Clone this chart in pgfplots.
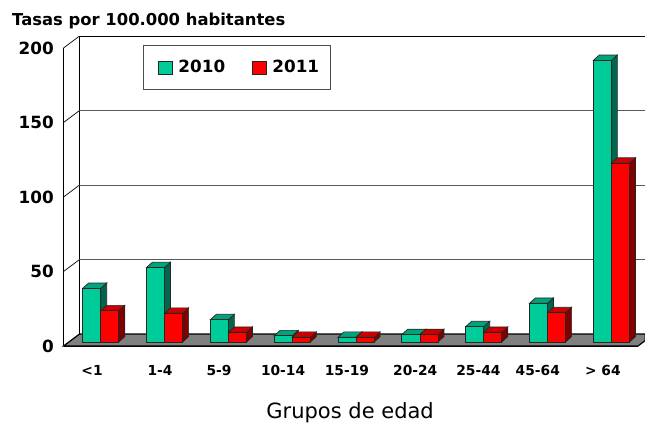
\documentclass[border=0pt]{standalone}
\usepackage{pgfplots}
\usepackage{fontspec}
\pgfplotsset{compat=1.18}
\setmainfont{DejaVu Sans}

\definecolor{greenF}{RGB}{0,204,153}
\definecolor{greenT}{RGB}{0,163,122}
\definecolor{greenS}{RGB}{0,102,77}
\definecolor{redF}{RGB}{255,0,0}
\definecolor{redT}{RGB}{204,0,0}
\definecolor{redS}{RGB}{128,0,0}

% one box: left edge, value, colours front/top/side
\newcommand{\onebox}[5]{%
  \pgfmathsetmacro{\xa}{#1}%
  \pgfmathsetmacro{\xb}{#1+0.283}%
  \pgfmathsetmacro{\xc}{#1+0.283+0.094}%
  \pgfmathsetmacro{\xd}{#1+0.094}%
  \pgfmathsetmacro{\ya}{2.68}%
  \pgfmathsetmacro{\yb}{2.68+#2}%
  \pgfmathsetmacro{\yc}{2.68+#2+3.6}%
  \pgfmathsetmacro{\ye}{2.68+3.6}%
  \addplot[forget plot, boxedge, fill=#5] coordinates {(\xb,\ya) (\xc,\ye) (\xc,\yc) (\xb,\yb)} -- cycle;
  \addplot[forget plot, boxedge, fill=#4] coordinates {(\xa,\yb) (\xb,\yb) (\xc,\yc) (\xd,\yc)} -- cycle;
  \addplot[forget plot, boxedge, fill=#3] coordinates {(\xa,\ya) (\xb,\ya) (\xb,\yb) (\xa,\yb)} -- cycle;
}
% one age group: index, 2010, 2011
\newcommand{\onegroup}[3]{%
  \pgfmathsetmacro{\gl}{#1+0.30}%
  \pgfmathsetmacro{\gr}{#1+0.583}%
  \edef\gleft{\gl}\edef\gright{\gr}%
  \expandafter\onebox\expandafter{\gleft}{#2}{greenF}{greenT}{greenS}%
  \expandafter\onebox\expandafter{\gright}{#3}{redF}{redT}{redS}%
}

\begin{document}
\begin{tikzpicture}
\path[use as bounding box] (-63.5pt,-80pt) rectangle (581.5pt,346pt);
\begin{axis}[
    scale only axis, width=574.5pt, height=298pt,
    xmin=0, xmax=9, ymin=0, ymax=200,
    clip=false,
    boxedge/.style={draw=black!85, line width=0.7pt, mark=none},
    axis x line=bottom, axis y line=left,
    axis line style={-, black, line width=0.9pt},
    xtick={0.447,1.512,2.437,3.44,4.44,5.51,6.50,7.43,8.45},
    xticklabels={<1,1-4,5-9,10-14,15-19,20-24,25-44,45-64,> 64},
    extra x ticks={0,1,2,3,4,5,6,7,8,9},
    extra x tick labels={},
    extra x tick style={major tick length=6pt, tick style={black, line width=0.7pt}},
    major x tick style={draw=none},
    ytick={0,50,100,150,200},
    major y tick style={draw=none},
    tick align=outside,
    xticklabel style={font=\bfseries\fontsize{13.8}{13.8}\selectfont, text height=10pt, text depth=0pt, yshift=-12pt},
    yticklabel style={font=\bfseries\fontsize{16.8}{16.8}\selectfont, xshift=-2pt},
    /pgf/number format/assume math mode=true,
    legend style={at={(axis cs:1.251,202)}, anchor=north west, draw=black!70, line width=0.8pt,
      font=\bfseries\fontsize{16.8}{16.8}\selectfont, inner xsep=14.5pt, inner ysep=13pt,
      /tikz/every odd column/.append style={column sep=4pt},
      /tikz/every even column/.append style={column sep=25pt}},
    legend columns=2,
    legend image code/.code={\draw[#1] (0pt,-6.5pt) rectangle (13.5pt,6.5pt);},
  ]
  % floor
  \addplot[forget plot, fill=black!50, draw=black, line width=1.2pt] coordinates {(0,0) (0.25,8) (9.114,8) (9.114,3.65) (9,0)} -- cycle;
  % back wall and grid
  \addplot[forget plot, black, line width=0.9pt] coordinates {(0.25,8) (0.25,208) (9.114,208)};
  \addplot[forget plot, black!65, line width=0.9pt] coordinates {(0.25,58) (9.114,58)};
  \addplot[forget plot, black!65, line width=0.9pt] coordinates {(0.25,108) (9.114,108)};
  \addplot[forget plot, black!65, line width=0.9pt] coordinates {(0.25,158) (9.114,158)};
  % slanted ticks on the side wall
  \addplot[forget plot, black, line width=0.7pt] coordinates {(0,50) (0.25,58)};
  \addplot[forget plot, black, line width=0.7pt] coordinates {(0,100) (0.25,108)};
  \addplot[forget plot, black, line width=0.7pt] coordinates {(0,150) (0.25,158)};
  \addplot[forget plot, black, line width=0.7pt] coordinates {(0,200) (0.25,208)};

  \onegroup{0}{36}{21}
  \onegroup{1}{50}{19.3}
  \onegroup{2}{15}{6.5}
  \onegroup{3}{4.2}{3.2}
  \onegroup{4}{3.2}{3.2}
  \onegroup{5}{5}{5}
  \onegroup{6}{10.3}{6.5}
  \onegroup{7}{26}{19.7}
  \onegroup{8}{189}{120}

  \addlegendimage{boxedge, fill=greenF}
  \addlegendentry{2010}
  \addlegendimage{boxedge, fill=redF}
  \addlegendentry{2011\hspace*{-5pt}}

  \node[anchor=west, inner sep=0pt, font=\bfseries\fontsize{16.4}{16.4}\selectfont] at (axis cs:-0.807,218) {Tasas por 100.000 habitantes};
  \node[font=\fontsize{21}{21}\selectfont] at (axis cs:4.49,-45) {Grupos de edad};
\end{axis}
\end{tikzpicture}
\end{document}
